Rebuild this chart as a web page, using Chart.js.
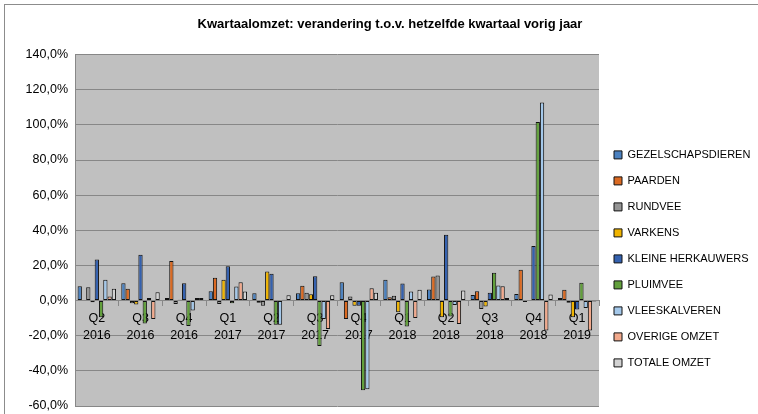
<!DOCTYPE html>
<html lang="nl">
<head>
<meta charset="utf-8">
<title>Kwartaalomzet</title>
<script src="https://cdn.jsdelivr.net/npm/chart.js@4.4.1/dist/chart.umd.min.js"></script>
<style>
    html, body { margin: 0; padding: 0; background: #fff; }
    #chartBox { position: absolute; left: 0; top: 0; width: 758px; height: 414px; }
</style>
</head>
<body>
<div id="chartBox">
    <canvas id="omzetChart" width="758" height="414"></canvas>
</div>
<script>
// Kwartalen (x-as)
const kwartalen = [
    ['Q2', '2016'], ['Q3', '2016'], ['Q4', '2016'], ['Q1', '2017'],
    ['Q2', '2017'], ['Q3', '2017'], ['Q4', '2017'], ['Q1', '2018'],
    ['Q2', '2018'], ['Q3', '2018'], ['Q4', '2018'], ['Q1', '2019']
];

// Verandering t.o.v. hetzelfde kwartaal vorig jaar (%)
const gezelschapsdieren = [8.2, 9.9, 1.5, 5.3, 4.2, 4.2, 10.5, 11.8, 6.3, 3.2, 3.8, 1.5];
const paarden           = [0.4, 6.7, 22.5, 13.0, -1.3, 8.4, -10.5, 1.9, 13.7, 5.3, 17.5, 6.1];
const rundvee           = [7.6, -1.5, -1.9, -1.9, -3.0, 4.4, 2.3, 2.7, 14.3, -4.8, -0.8, -1.3];
const varkens           = [-1.0, -2.3, 0.5, 11.8, 16.6, 3.6, -2.9, -6.7, -9.5, -3.4, 0.3, -9.5];
const kleineHerkauwers  = [23.4, 26.1, 9.9, 19.6, 15.2, 13.9, -2.9, 9.7, 37.5, 4.4, 31.0, -5.1];
const pluimvee          = [-9.5, -13.0, -14.5, -1.5, -13.7, -25.9, -51.0, -14.8, -9.1, 15.8, 101.7, 10.1];
const vleeskalveren     = [11.8, 1.5, -5.7, 8.0, -13.7, -10.5, -50.5, 5.1, -2.5, 8.6, 112.7, -4.2];
const overigeOmzet      = [2.3, -10.5, 1.5, 10.5, 0.5, -16.2, 7.0, -9.9, -13.3, 8.2, -17.1, -17.1];
const totaleOmzet       = [6.7, 4.8, 1.5, 5.1, 3.0, 3.0, 4.4, 6.1, 5.7, 1.5, 3.4, -0.5];

// y-as
const yMin = -60;
const yMax = 140;
const yStap = 20;

document.addEventListener('DOMContentLoaded', function() {
    Chart.defaults.font.family = "'Liberation Sans', Arial, sans-serif";
    Chart.defaults.color = '#000';

    function serie(label, data, kleur) {
        return {
            label: label,
            data: data,
            backgroundColor: kleur,
            borderColor: '#111',
            borderWidth: 1,
            borderSkipped: false,
            categoryPercentage: 0.88,
            barPercentage: 1
        };
    }

    // grijze achtergrond van het plotgebied + kader rond de grafiek
    const achtergrond = {
        id: 'achtergrond',
        beforeDraw: function(chart) {
            const ctx = chart.ctx;
            const a = chart.chartArea;
            ctx.save();
            ctx.strokeStyle = '#8c8c8c';
            ctx.lineWidth = 1;
            ctx.strokeRect(4.5, 4.5, 760, 420);
            ctx.fillStyle = '#c0c0c0';
            ctx.fillRect(a.left, a.top, a.right - a.left, a.bottom - a.top);
            ctx.restore();
        }
    };

    const ctx = document.getElementById('omzetChart').getContext('2d');
    new Chart(ctx, {
        type: 'bar',
        data: {
            labels: kwartalen,
            datasets: [
                serie('GEZELSCHAPSDIEREN', gezelschapsdieren, '#4A81C0'),
                serie('PAARDEN', paarden, '#DB6A22'),
                serie('RUNDVEE', rundvee, '#959595'),
                serie('VARKENS', varkens, '#F0B400'),
                serie('KLEINE HERKAUWERS', kleineHerkauwers, '#3461AF'),
                serie('PLUIMVEE', pluimvee, '#62A03C'),
                serie('VLEESKALVEREN', vleeskalveren, '#A4C8EA'),
                serie('OVERIGE OMZET', overigeOmzet, '#F2A98C'),
                serie('TOTALE OMZET', totaleOmzet, '#D2D2D2')
            ]
        },
        options: {
            responsive: false,
            animation: false,
            layout: { padding: { left: 22, right: 0, top: 0, bottom: 8 } },
            scales: {
                x: {
                    position: { y: 0 },
                    grid: { display: true, drawOnChartArea: false, drawTicks: true, tickLength: 5, color: '#888' },
                    border: { display: true, color: '#888' },
                    ticks: { font: { size: 12.5, lineHeight: 1.35 }, padding: 5, maxRotation: 0, autoSkip: false }
                },
                y: {
                    min: yMin,
                    max: yMax,
                    grid: { color: '#878787', drawTicks: false },
                    border: { display: true, color: '#888' },
                    ticks: {
                        stepSize: yStap,
                        padding: 7,
                        font: { size: 12.5 },
                        callback: function(v) { return v.toFixed(1).replace('.', ',') + '%'; }
                    },
                    afterFit: function(s) {
                        s.width = 53;
                        s.paddingTop = 0;
                        s.paddingBottom = 0;
                    }
                }
            },
            plugins: {
                title: {
                    display: true,
                    text: 'Kwartaalomzet: verandering t.o.v. hetzelfde kwartaal vorig jaar',
                    font: { size: 13, weight: 'bold' },
                    color: '#000',
                    padding: { top: 17, bottom: 22 }
                },
                legend: {
                    position: 'right',
                    align: 'start',
                    maxWidth: 159,
                    title: { display: true, text: '', padding: { top: 120, bottom: 0 } },
                    labels: { boxWidth: 8, boxHeight: 8, padding: 15, font: { size: 11 }, color: '#000' }
                },
                tooltip: { enabled: false }
            }
        },
        plugins: [achtergrond]
    });
});
</script>
</body>
</html>
